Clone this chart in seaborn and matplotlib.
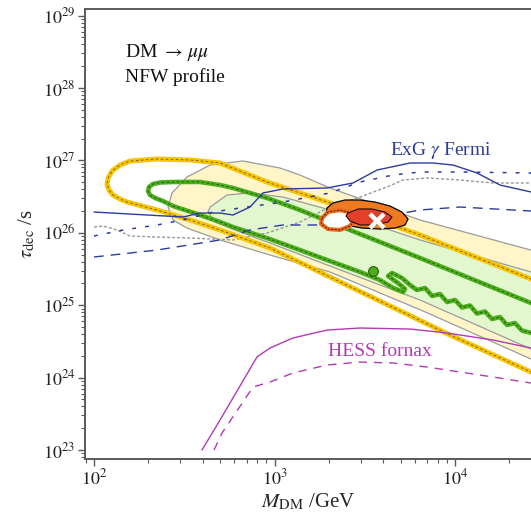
import numpy as np
import matplotlib
matplotlib.use("Agg")
import matplotlib.pyplot as plt
from matplotlib.ticker import NullFormatter
import seaborn as sns

# All curves are given as log10(M_DM / GeV) and log10(tau_dec / s)

# Fermi extragalactic gamma-ray bounds
fermi_solid_lgm = [2.000, 2.493, 2.587, 2.698, 2.770, 2.864, 2.936, 3.047, 3.291, 3.435,
                   3.568, 3.751, 3.878, 3.989, 4.122, 4.249, 4.421]
fermi_solid_lgt = [26.287, 26.218, 26.273, 26.273, 26.246, 26.356, 26.550, 26.605, 26.619, 26.688,
                   26.867, 26.964, 26.964, 26.936, 26.826, 26.660, 26.564]
fermi_dotted_lgm = [2.000, 2.161, 2.349, 2.493, 2.659, 2.809, 3.047, 3.307, 3.474, 3.657,
                    3.806, 4.028, 4.421]
fermi_dotted_lgt = [25.956, 26.039, 26.108, 26.177, 26.287, 26.343, 26.425, 26.550, 26.702, 26.798,
                    26.840, 26.840, 26.826]
fermi_dashed_lgm = [2.000, 2.349, 2.698, 2.864, 3.047, 3.235, 3.657, 3.806, 4.028, 4.421]
fermi_dashed_lgt = [25.666, 25.762, 25.901, 26.039, 26.108, 26.108, 26.246, 26.315, 26.356, 26.301]

# grey dashed bound
grey_lgm = [2.000, 2.050, 2.127, 2.199, 2.349, 2.532, 2.770, 2.958, 3.141, 3.307,
            3.474, 3.623, 3.712, 3.845, 4.028, 4.211, 4.421]
grey_lgt = [26.080, 26.094, 26.039, 25.956, 25.942, 25.928, 25.901, 25.997, 26.149, 26.356,
            26.494, 26.633, 26.729, 26.757, 26.729, 26.688, 26.688]

# HESS Fornax bounds
hess_solid_lgm = [2.598, 2.698, 2.903, 2.975, 3.102, 3.291, 3.474, 3.751, 3.956, 4.211, 4.421]
hess_solid_lgt = [23.000, 23.414, 24.285, 24.409, 24.547, 24.657, 24.685, 24.671, 24.616, 24.519, 24.409]
hess_dashed_lgm = [2.665, 2.709, 2.881, 2.975, 3.102, 3.291, 3.474, 3.657, 3.845, 4.028, 4.211, 4.421]
hess_dashed_lgt = [23.000, 23.235, 23.870, 23.939, 24.064, 24.174, 24.215, 24.202, 24.146, 24.077,
                   24.008, 23.925]

# positron-fit regions (filled bands)
band_yellow_lgm = [4.45, 3.806, 3.307, 3.141, 3.030, 2.825, 2.643, 2.515, 2.432, 2.410,
                   2.438, 2.515, 2.698, 2.975, 3.307, 3.823, 4.45]
band_yellow_lgt = [25.742, 26.177, 26.619, 26.798, 26.895, 26.992, 26.936, 26.771, 26.550, 26.356,
                   26.177, 26.066, 25.901, 25.693, 25.459, 24.920, 24.225]
band_green_lgm = [4.45, 3.806, 3.307, 3.047, 2.864, 2.737, 2.643, 2.632, 2.670, 2.809,
                  2.975, 3.307, 3.806, 4.45]
band_green_lgt = [25.438, 25.901, 26.315, 26.494, 26.550, 26.522, 26.356, 26.287, 26.149, 26.011,
                  25.859, 25.541, 25.072, 24.363]

# contour lines
cont_yellow_lgm = [4.45, 3.806, 3.307, 3.141, 2.958, 2.698, 2.532, 2.349, 2.199, 2.144,
                   2.100, 2.078, 2.072, 2.083, 2.105, 2.144, 2.183, 2.349, 2.532, 2.698,
                   2.975, 3.307, 3.767, 3.961, 4.45]
cont_yellow_lgt = [25.333, 25.970, 26.412, 26.550, 26.702, 26.964, 27.006, 27.019, 26.992, 26.936,
                   26.854, 26.757, 26.674, 26.591, 26.522, 26.467, 26.425, 26.315, 26.177, 26.039,
                   25.790, 25.390, 24.837, 24.602, 24.044]
cont_green_lgm = [4.45, 3.806, 3.307, 3.141, 2.958, 2.770, 2.698, 2.587, 2.438, 2.366,
                  2.327, 2.305, 2.299, 2.310, 2.338, 2.382, 2.438, 2.587, 2.698, 2.770,
                  2.958, 3.141, 3.307, 3.474, 3.584, 3.657, 3.712, 3.723, 3.684, 3.629,
                  3.651, 3.706, 3.751, 3.789, 3.834, 3.873, 3.917, 3.956, 4.000, 4.039,
                  4.083, 4.122, 4.166, 4.205, 4.249, 4.288, 4.332, 4.371, 4.45]
cont_green_lgt = [25.001, 25.652, 26.149, 26.315, 26.481, 26.619, 26.660, 26.702, 26.702, 26.695,
                  26.674, 26.633, 26.577, 26.522, 26.481, 26.439, 26.370, 26.246, 26.149, 26.080,
                  25.928, 25.762, 25.610, 25.459, 25.348, 25.238, 25.182, 25.224, 25.307, 25.403,
                  25.445, 25.376, 25.279, 25.210, 25.238, 25.127, 25.155, 25.044, 25.072, 24.968,
                  24.996, 24.885, 24.913, 24.809, 24.837, 24.727, 24.754, 24.650, 24.600]
green_island = (3.546, 25.472)

# combined-fit islands
orange_lgm = [3.291, 3.324, 3.391, 3.474, 3.557, 3.640, 3.706, 3.740, 3.723, 3.668,
              3.584, 3.485, 3.391, 3.324, 3.285]
orange_lgt = [26.343, 26.412, 26.453, 26.453, 26.425, 26.370, 26.287, 26.190, 26.108, 26.066,
              26.052, 26.066, 26.108, 26.177, 26.260]
ring_lgm = [3.263, 3.296, 3.363, 3.429, 3.446, 3.418, 3.363, 3.296, 3.258, 3.263]
ring_lgt = [26.204, 26.287, 26.315, 26.273, 26.177, 26.094, 26.039, 26.052, 26.122, 26.204]
red_lgm = [3.407, 3.463, 3.540, 3.612, 3.651, 3.629, 3.557, 3.474, 3.418, 3.396]
red_lgt = [26.273, 26.329, 26.329, 26.287, 26.218, 26.149, 26.108, 26.108, 26.163, 26.232]
best_fit = (3.568, 26.163)

# axis decades
x_decades = [2, 3, 4]
y_decades = [23, 24, 25, 26, 27, 28, 29]

BLUE = "#2b3c9c"
MAGENTA = "#b23ab4"
GOLD = "#f6c400"
GREEN = "#4cae1c"

sns.set_theme(style="ticks")
plt.rcParams["font.family"] = ["Liberation Serif", "DejaVu Serif"]
plt.rcParams["mathtext.fontset"] = "stix"

fig = plt.figure(figsize=(5.31, 5.14), dpi=100)
ax = fig.add_axes([85 / 531, 1 - 459 / 514, 1 - 85 / 531, 450 / 514])
ax.set_xscale("log")
ax.set_yscale("log")


def pw(v):
    return 10.0 ** np.asarray(v, dtype=float)


def line(lgm, lgt, **kw):
    sns.lineplot(x=pw(lgm), y=pw(lgt), sort=False, estimator=None, ax=ax, legend=False, **kw)


# filled bands
ax.fill(pw(band_yellow_lgm), pw(band_yellow_lgt), facecolor="#fff5c9", edgecolor="#9c9c9c",
        lw=0.9, zorder=1)
ax.fill(pw(band_green_lgm), pw(band_green_lgt), facecolor="#e3f7cf", edgecolor="#9c9c9c",
        lw=0.9, zorder=1.1)

# grey and blue bounds
line(grey_lgm, grey_lgt, color="#9a9a9a", lw=1.0, linestyle=(0, (2.2, 1.4)), zorder=2)
line(fermi_solid_lgm, fermi_solid_lgt, color=BLUE, lw=1.0, zorder=4)
line(fermi_dotted_lgm, fermi_dotted_lgt, color=BLUE, lw=1.1, linestyle=(0, (2.5, 6)), zorder=4)
line(fermi_dashed_lgm, fermi_dashed_lgt, color=BLUE, lw=1.0, linestyle=(0, (7, 5)), zorder=4)

# contours: thick coloured line with a fine dashed core
line(cont_yellow_lgm, cont_yellow_lgt, color=GOLD, lw=3.6, zorder=3,
     solid_joinstyle="round", solid_capstyle="round")
line(cont_yellow_lgm, cont_yellow_lgt, color="#6b5500", lw=0.6, linestyle=(0, (3, 3)), zorder=3.1)
line(cont_green_lgm, cont_green_lgt, color=GREEN, lw=3.3, zorder=3.2,
     solid_joinstyle="round", solid_capstyle="round")
line(cont_green_lgm, cont_green_lgt, color="#1f4a00", lw=0.6, linestyle=(0, (3, 3)), zorder=3.3)
ax.plot(pw(green_island[0]), pw(green_island[1]), "o", ms=7, color=GREEN, mec="#2a5a05",
        mew=0.8, zorder=3.4)

# combined-fit islands
ax.fill(pw(orange_lgm), pw(orange_lgt), facecolor="#ef7a1f", edgecolor="black", lw=0.9, zorder=5)
ax.fill(pw(ring_lgm), pw(ring_lgt), facecolor="white", edgecolor="none", zorder=5.1)
ax.plot(pw(ring_lgm), pw(ring_lgt), color="#ee6a1a", lw=3.0, zorder=5.2, solid_joinstyle="round")
ax.plot(pw(ring_lgm), pw(ring_lgt), color="black", lw=0.5, ls=(0, (3, 2)), zorder=5.3)
ax.fill(pw(red_lgm), pw(red_lgt), facecolor="#e2402a", edgecolor="black", lw=0.7, zorder=5.4)
ax.plot(pw(best_fit[0]), pw(best_fit[1]), "x", ms=10, mew=3.2, color="white", zorder=6)

# HESS Fornax
line(hess_solid_lgm, hess_solid_lgt, color=MAGENTA, lw=1.0, zorder=4)
line(hess_dashed_lgm, hess_dashed_lgt, color=MAGENTA, lw=1.0, linestyle=(0, (6, 5)), zorder=4)

# labels
ax.text(0.090, 0.893, r"DM $\rightarrow\,\mu\mu$", transform=ax.transAxes, fontsize=14,
        va="baseline", ha="left", color="#111111")
ax.text(0.090, 0.838, "NFW profile", transform=ax.transAxes, fontsize=14,
        va="baseline", ha="left", color="#111111")
ax.text(0.684, 0.676, r"ExG $\gamma$ Fermi", transform=ax.transAxes, fontsize=14,
        va="baseline", ha="left", color=BLUE)
ax.text(0.545, 0.229, "HESS fornax", transform=ax.transAxes, fontsize=14,
        va="baseline", ha="left", color=MAGENTA)

ax.set_xlim(10 ** 1.950, 10 ** 4.421)
ax.set_ylim(10 ** 22.876, 10 ** 29.091)
ax.set_xticks([10.0 ** d for d in x_decades], [rf"$10^{{{d}}}$" for d in x_decades])
ax.set_yticks([10.0 ** d for d in y_decades], [rf"$10^{{{d}}}$" for d in y_decades])
ax.set_xlabel(r"$M_{\rm DM}$ /GeV", fontsize=15, labelpad=2)
ax.set_ylabel(r"$\tau_{\rm dec}$ /s", fontsize=15, labelpad=4)
ax.xaxis.set_minor_formatter(NullFormatter())
ax.yaxis.set_minor_formatter(NullFormatter())

for side in ("left", "bottom", "top"):
    ax.spines[side].set_color("#5a5a5a")
    ax.spines[side].set_linewidth(1.4)
ax.spines["right"].set_visible(False)
ax.tick_params(which="both", direction="out", top=False, right=False, left=True, bottom=True,
               color="#5a5a5a")
ax.tick_params(which="major", length=5, width=1.0, labelsize=13, labelcolor="#222222", pad=2)
ax.tick_params(which="minor", length=3, width=0.8)

fig.savefig("out.png", dpi=100)
